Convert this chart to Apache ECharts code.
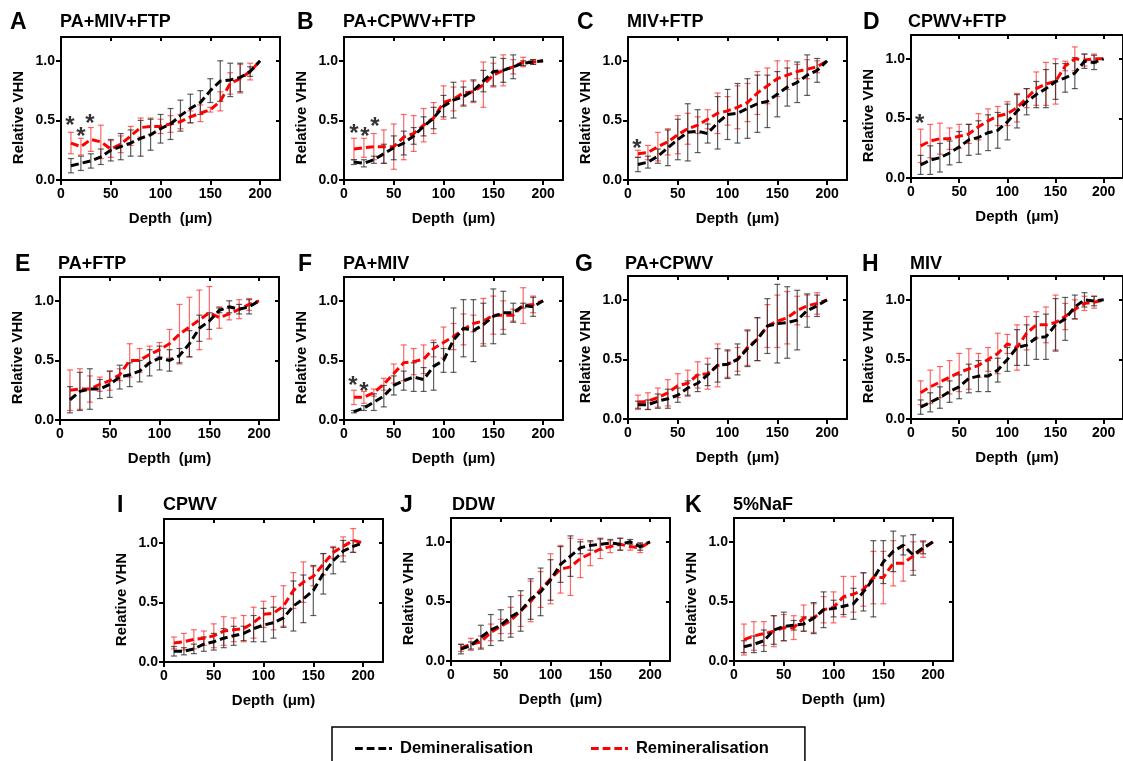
<!DOCTYPE html>
<html><head><meta charset="utf-8">
<script src="https://cdn.jsdelivr.net/npm/echarts@6/dist/echarts.min.js"></script>
<style>html,body{margin:0;padding:0;background:#fff}#c{width:1123px;height:761px}</style>
</head><body><div id="c"></div><script>
// ---------- DATA ----------
const depth = [10,20,30,40,50,60,70,80,90,100,110,120,130,140,150,160,170,180,190,200];
const xTickValues = [0,50,100,150,200];
const yTickValues = [0,0.5,1.0];
const seriesNames = ['Demineralisation','Remineralisation'];
const panelLetters = ['A','B','C','D','E','F','G','H','I','J','K'];
const panelTitles = ['PA+MIV+FTP','PA+CPWV+FTP','MIV+FTP','CPWV+FTP','PA+FTP','PA+MIV','PA+CPWV','MIV','CPWV','DDW','5%NaF'];
const xAxisName = 'Depth  (\u03bcm)';
const yAxisName = 'Relative VHN';

const demA = [0.12,0.14,0.16,0.195,0.25,0.28,0.31,0.35,0.38,0.43,0.47,0.54,0.6,0.65,0.75,0.83,0.84,0.86,0.91,1.0];
const demA_sd = [0.06,0.06,0.06,0.065,0.09,0.11,0.11,0.15,0.13,0.12,0.13,0.13,0.12,0.1,0.1,0.17,0.14,0.12,0.04];
const remA = [0.31,0.28,0.34,0.32,0.26,0.3,0.37,0.44,0.45,0.45,0.47,0.49,0.53,0.56,0.59,0.66,0.81,0.85,0.91,1.0];
const remA_sd = [0.09,0.07,0.1,0.14,0.07,0.07,0.08,0.08,0.07,0.06,0.07,0.06,0.05,0.07,0.02,0.08,0.09,0.12,0.07];

const demB = [0.15,0.14,0.17,0.22,0.27,0.31,0.37,0.45,0.52,0.62,0.67,0.7,0.75,0.83,0.91,0.92,0.95,0.98,0.99,1.0];
const demB_sd = [0.02,0.03,0.03,0.08,0.1,0.1,0.07,0.08,0.09,0.09,0.15,0.08,0.09,0.09,0.12,0.1,0.1,0.02,0.02];
const remB = [0.26,0.27,0.28,0.28,0.28,0.36,0.39,0.46,0.52,0.65,0.68,0.73,0.74,0.8,0.88,0.92,0.95,0.99,0.99,1.0];
const remB_sd = [0.09,0.08,0.11,0.14,0.19,0.19,0.15,0.14,0.13,0.14,0.1,0.1,0.09,0.19,0.1,0.13,0.06,0.04,0.02];

const demC = [0.13,0.15,0.2,0.27,0.34,0.4,0.41,0.39,0.48,0.55,0.56,0.6,0.64,0.66,0.72,0.78,0.82,0.88,0.92,1.0];
const demC_sd = [0.06,0.05,0.06,0.15,0.17,0.24,0.18,0.08,0.22,0.21,0.25,0.25,0.24,0.22,0.19,0.16,0.17,0.17,0.1];
const remC = [0.22,0.23,0.28,0.32,0.38,0.43,0.46,0.51,0.56,0.58,0.61,0.65,0.73,0.79,0.85,0.88,0.91,0.93,0.95,1.0];
const remC_sd = [0.03,0.06,0.12,0.11,0.16,0.13,0.07,0.08,0.17,0.12,0.18,0.16,0.18,0.15,0.15,0.12,0.06,0.08,0.05];

const demD = [0.11,0.15,0.17,0.21,0.26,0.32,0.34,0.38,0.4,0.47,0.56,0.64,0.7,0.75,0.81,0.84,0.88,0.98,0.97,1.0];
const demD_sd = [0.08,0.12,0.12,0.1,0.13,0.13,0.14,0.15,0.15,0.15,0.14,0.11,0.11,0.16,0.15,0.12,0.13,0.06,0.06];
const remD = [0.27,0.31,0.33,0.33,0.35,0.37,0.43,0.48,0.52,0.54,0.59,0.67,0.75,0.79,0.81,0.94,1.0,0.99,1.0,1.0];
const remD_sd = [0.14,0.14,0.13,0.09,0.1,0.08,0.11,0.1,0.08,0.1,0.12,0.08,0.14,0.18,0.19,0.04,0.1,0.05,0.04];

const demE = [0.17,0.24,0.26,0.26,0.3,0.36,0.38,0.41,0.48,0.52,0.5,0.54,0.64,0.77,0.83,0.92,0.95,0.93,0.95,1.0];
const demE_sd = [0.11,0.16,0.17,0.08,0.11,0.1,0.1,0.09,0.11,0.1,0.09,0.06,0.11,0.11,0.07,0.02,0.05,0.04,0.06];
const remE = [0.25,0.26,0.26,0.3,0.33,0.38,0.5,0.5,0.55,0.59,0.64,0.72,0.78,0.84,0.9,0.86,0.89,0.93,0.97,1.0];
const remE_sd = [0.17,0.17,0.11,0.06,0.08,0.05,0.14,0.1,0.07,0.06,0.12,0.25,0.25,0.25,0.22,0.09,0.05,0.08,0.05];

const demF = [0.07,0.1,0.15,0.2,0.29,0.33,0.36,0.34,0.45,0.5,0.67,0.77,0.75,0.8,0.87,0.9,0.9,0.96,0.95,1.0];
const demF_sd = [0.01,0.02,0.07,0.09,0.08,0.08,0.12,0.1,0.2,0.1,0.27,0.24,0.26,0.18,0.23,0.18,0.08,0.02,0.08];
const remF = [0.19,0.19,0.23,0.3,0.39,0.48,0.49,0.51,0.6,0.65,0.7,0.76,0.81,0.83,0.88,0.88,0.88,0.96,0.97,1.0];
const remF_sd = [0.06,0.05,0.03,0.05,0.08,0.15,0.11,0.12,0.07,0.13,0.11,0.13,0.07,0.19,0.16,0.12,0.05,0.15,0.07];

const demG = [0.12,0.12,0.15,0.17,0.2,0.26,0.3,0.37,0.45,0.46,0.5,0.59,0.67,0.78,0.8,0.81,0.83,0.91,0.95,1.0];
const demG_sd = [0.03,0.04,0.06,0.08,0.06,0.06,0.07,0.09,0.14,0.12,0.13,0.15,0.18,0.23,0.33,0.3,0.25,0.14,0.09];
const remG = [0.14,0.15,0.18,0.22,0.28,0.3,0.37,0.38,0.45,0.46,0.5,0.6,0.67,0.78,0.82,0.85,0.91,0.95,0.97,1.0];
const remG_sd = [0.06,0.07,0.08,0.11,0.1,0.11,0.11,0.13,0.18,0.11,0.1,0.15,0.18,0.18,0.22,0.22,0.12,0.09,0.09];

const demH = [0.1,0.14,0.18,0.23,0.27,0.34,0.36,0.36,0.41,0.5,0.6,0.62,0.68,0.69,0.79,0.84,0.94,1.0,0.99,1.0];
const demH_sd = [0.06,0.08,0.09,0.09,0.1,0.12,0.13,0.13,0.1,0.1,0.15,0.17,0.18,0.19,0.22,0.18,0.1,0.06,0.04];
const remH = [0.22,0.27,0.31,0.35,0.39,0.42,0.45,0.5,0.55,0.63,0.6,0.72,0.79,0.79,0.81,0.86,0.92,0.97,0.98,1.0];
const remH_sd = [0.1,0.14,0.13,0.14,0.16,0.17,0.1,0.1,0.17,0.08,0.19,0.14,0.11,0.15,0.23,0.11,0.08,0.06,0.05];

const demI = [0.09,0.09,0.11,0.15,0.17,0.2,0.22,0.24,0.28,0.31,0.33,0.37,0.47,0.53,0.6,0.74,0.85,0.93,0.97,1.0];
const demI_sd = [0.04,0.03,0.04,0.06,0.07,0.08,0.08,0.06,0.11,0.14,0.13,0.08,0.21,0.2,0.21,0.17,0.11,0.09,0.05];
const remI = [0.16,0.17,0.19,0.2,0.22,0.26,0.27,0.28,0.33,0.4,0.41,0.47,0.6,0.67,0.72,0.82,0.92,0.97,1.02,1.0];
const remI_sd = [0.05,0.07,0.08,0.06,0.1,0.12,0.1,0.11,0.13,0.11,0.14,0.17,0.15,0.17,0.08,0.09,0.05,0.08,0.1];

const demJ = [0.1,0.13,0.2,0.26,0.3,0.37,0.42,0.52,0.58,0.68,0.81,0.88,0.95,0.97,0.98,0.99,0.98,1.0,0.96,1.0];
const demJ_sd = [0.04,0.03,0.1,0.13,0.13,0.17,0.17,0.17,0.2,0.17,0.15,0.17,0.05,0.04,0.05,0.03,0.05,0.02,0.03];
const remJ = [0.11,0.14,0.16,0.24,0.29,0.34,0.42,0.5,0.6,0.69,0.77,0.79,0.86,0.9,0.94,0.96,0.98,0.96,0.95,1.0];
const remJ_sd = [0.03,0.05,0.05,0.07,0.06,0.11,0.13,0.17,0.15,0.21,0.2,0.24,0.16,0.1,0.08,0.05,0.05,0.03,0.04];

const demK = [0.12,0.14,0.17,0.26,0.29,0.3,0.31,0.36,0.43,0.44,0.46,0.48,0.58,0.69,0.83,0.92,0.97,0.89,0.95,1.0];
const demK_sd = [0.05,0.07,0.09,0.12,0.12,0.04,0.06,0.13,0.15,0.07,0.07,0.13,0.16,0.32,0.18,0.17,0.08,0.17,0.05];
const remK = [0.18,0.21,0.23,0.25,0.28,0.28,0.36,0.36,0.43,0.45,0.54,0.56,0.6,0.7,0.7,0.82,0.82,0.88,0.94,1.0];
const remK_sd = [0.13,0.12,0.1,0.13,0.11,0.1,0.11,0.12,0.11,0.13,0.17,0.15,0.14,0.22,0.22,0.19,0.15,0.12,0.07];

// significance markers (*) : [depth, y position]
const astA = [[9,0.50],[20,0.405],[29,0.52]];
const astB = [[10,0.43],[21,0.405],[31,0.49]];
const astC = [[9,0.31]];
const astD = [[9,0.50]];
const astF = [[9,0.33],[20,0.28]];

// ---------- LAYOUT / STYLE ----------
const dem = [demA,demB,demC,demD,demE,demF,demG,demH,demI,demJ,demK];
const demSd = [demA_sd,demB_sd,demC_sd,demD_sd,demE_sd,demF_sd,demG_sd,demH_sd,demI_sd,demJ_sd,demK_sd];
const rem = [remA,remB,remC,remD,remE,remF,remG,remH,remI,remJ,remK];
const remSd = [remA_sd,remB_sd,remC_sd,remD_sd,remE_sd,remF_sd,remG_sd,remH_sd,remI_sd,remJ_sd,remK_sd];
const ast = [astA,astB,astC,astD,[],astF,[],[],[],[],[]];

const layout = [
  {l:61,t:37,lx:10,tx:60,ry:0},{l:344,t:37,lx:297,tx:343,ry:0},{l:628,t:37,lx:577,tx:627,ry:0},{l:911,t:35,lx:863,tx:908,ry:0},
  {l:60,t:277,lx:15,tx:58,ry:1},{l:344,t:277,lx:298,tx:343,ry:1},{l:628,t:276,lx:575,tx:625,ry:1},{l:911,t:276,lx:862,tx:910,ry:1},
  {l:164,t:519,lx:117,tx:163,ry:2},{l:451,t:518,lx:400,tx:452,ry:2},{l:734,t:518,lx:685,tx:733,ry:2}
];
const rowTitleTop = [13,255,496];
const rowLetterTop = [11,253,494];
const GW = 219, GH = 143;
const FONT = '"Liberation Sans", Arial, Helvetica, sans-serif';
const BLACK = '#000000', RED = '#ff0000';
const BAR_BLACK = 'rgba(40,40,40,0.75)', BAR_RED = 'rgba(255,40,40,0.7)';
const DASH_ICON = 'path://M0,0h8v3h-8z M12,0h8v3h-8z M24,0h8v3h-8z M35,0h3v3h-3z';

function errRender(color){
  return function(params, api){
    const x = api.value(0), m = api.value(1), s = api.value(2);
    const p1 = api.coord([x, m + s]), p2 = api.coord([x, m - s]);
    const hw = 3;
    const st = {stroke: color, lineWidth: 1.2, fill: null};
    return {type:'group', children:[
      {type:'line', shape:{x1:p1[0],y1:p1[1],x2:p2[0],y2:p2[1]}, style:st},
      {type:'line', shape:{x1:p1[0]-hw,y1:p1[1],x2:p1[0]+hw,y2:p1[1]}, style:st},
      {type:'line', shape:{x1:p2[0]-hw,y1:p2[1],x2:p2[0]+hw,y2:p2[1]}, style:st}
    ]};
  };
}

const grid = [], xAxis = [], yAxis = [], series = [], title = [];
layout.forEach((L, i) => {
  grid.push({left: L.l, top: L.t, width: GW, height: GH, containLabel: false});
  const axLine = {show: true, onZero: false, lineStyle: {color: '#000', width: 2}};
  xAxis.push({type:'value', gridIndex:i, min:0, max:220, position:'bottom',
    name: xAxisName, nameLocation:'middle', nameGap: 31,
    nameTextStyle:{fontFamily:FONT, fontWeight:'bold', fontSize:15, color:'#000'},
    axisLine: axLine, splitLine:{show:false},
    axisTick:{show:true, inside:false, length:5, lineStyle:{color:'#000', width:2}, customValues: xTickValues},
    axisLabel:{show:true, margin:7, fontFamily:FONT, fontWeight:'bold', fontSize:14, color:'#000', customValues: xTickValues}
  });
  xAxis.push({type:'value', gridIndex:i, min:0, max:220, position:'top',
    axisLine: axLine, splitLine:{show:false},
    axisTick:{show:true, inside:true, length:4, lineStyle:{color:'#000', width:2}, customValues: xTickValues},
    axisLabel:{show:false}
  });
  yAxis.push({type:'value', gridIndex:i, min:0, max:1.2, position:'left',
    name: yAxisName, nameLocation:'middle', nameGap: 35,
    nameTextStyle:{fontFamily:FONT, fontWeight:'bold', fontSize:15, color:'#000', padding:[0,18,0,0]},
    axisLine: axLine, splitLine:{show:false},
    axisTick:{show:true, inside:false, length:5, lineStyle:{color:'#000', width:2}, customValues: yTickValues},
    axisLabel:{show:true, margin:6, fontFamily:FONT, fontWeight:'bold', fontSize:14, color:'#000',
      customValues: yTickValues, formatter: v => Number(v).toFixed(1)}
  });
  yAxis.push({type:'value', gridIndex:i, min:0, max:1.2, position:'right',
    axisLine: axLine, splitLine:{show:false},
    axisTick:{show:true, inside:true, length:4, lineStyle:{color:'#000', width:2}, customValues: yTickValues},
    axisLabel:{show:false}
  });
  const xi = 2*i, yi = 2*i;
  const errData = (m, s) => s.map((sd, j) => [depth[j], m[j], sd]);
  series.push({type:'custom', name: seriesNames[1]+'-err', xAxisIndex:xi, yAxisIndex:yi, coordinateSystem:'cartesian2d',
    renderItem: errRender(BAR_RED), encode:{x:0, y:1}, data: errData(rem[i], remSd[i]), silent:true, z:2});
  series.push({type:'custom', name: seriesNames[0]+'-err', xAxisIndex:xi, yAxisIndex:yi, coordinateSystem:'cartesian2d',
    renderItem: errRender(BAR_BLACK), encode:{x:0, y:1}, data: errData(dem[i], demSd[i]), silent:true, z:3});
  series.push({type:'line', name: seriesNames[1], xAxisIndex:xi, yAxisIndex:yi, symbol:'none', z:4,
    lineStyle:{color:RED, width:3, type:[8,4]}, itemStyle:{color:RED},
    data: depth.map((d, j) => [d, rem[i][j]])});
  series.push({type:'line', name: seriesNames[0], xAxisIndex:xi, yAxisIndex:yi, symbol:'none', z:5,
    lineStyle:{color:BLACK, width:3, type:[8,4]}, itemStyle:{color:BLACK},
    data: depth.map((d, j) => [d, dem[i][j]])});
  if (ast[i].length) {
    series.push({type:'scatter', name:'sig', xAxisIndex:xi, yAxisIndex:yi, symbolSize:0, z:6, silent:true,
      data: ast[i],
      label:{show:true, position:'inside', formatter:'*', offset:[0,6], fontFamily:FONT, fontWeight:'bold', fontSize:24, color:'#000'}});
  }
  title.push({text: panelLetters[i], left: L.lx, top: rowLetterTop[L.ry], padding:0,
    textStyle:{fontFamily:FONT, fontWeight:'bold', fontSize:23, color:'#000'}});
  title.push({text: panelTitles[i], left: L.tx, top: rowTitleTop[L.ry], padding:0,
    textStyle:{fontFamily:FONT, fontWeight:'bold', fontSize:18, color:'#000'}});
});

const chart = echarts.init(document.getElementById('c'), null, {renderer:'canvas'});
chart.setOption({
  backgroundColor:'#fff',
  animation:false,
  title: title,
  grid: grid, xAxis: xAxis, yAxis: yAxis, series: series,
  legend: {data: seriesNames.map(n => ({name:n, icon: DASH_ICON})), left: 332, top: 727, orient:'horizontal',
    padding:[13, 36, 14, 23], itemGap: 58, itemWidth: 37, itemHeight: 3,
    borderColor:'#000', borderWidth:1.5,
    textStyle:{fontFamily:FONT, fontWeight:'bold', fontSize:16.5, color:'#000', padding:[0,0,0,3]}}
});
</script></body></html>
